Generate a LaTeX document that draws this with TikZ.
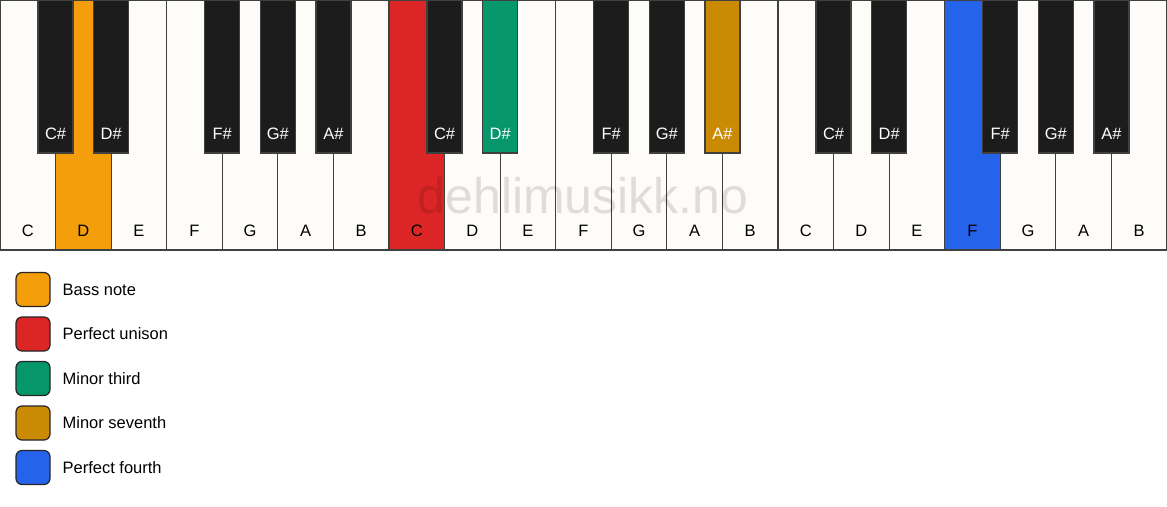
\documentclass[tikz,border=0pt]{standalone}
\usepackage{fontspec}
\setmainfont{Liberation Sans}
\usetikzlibrary{positioning}
\definecolor{ivory}{HTML}{FDFCF9}
\definecolor{keyblack}{HTML}{1C1C1C}
\definecolor{bassorange}{HTML}{F59E0B}
\definecolor{unisonred}{HTML}{DC2626}
\definecolor{thirdgreen}{HTML}{059669}
\definecolor{seventhgold}{HTML}{CA8A04}
\definecolor{fourthblue}{HTML}{2563EB}
\tikzset{
  >=latex,
}
\tikzstyle{whitekey}=[draw=black!75,line width=1.2pt]
\tikzstyle{blackkey}=[draw=black!75,line width=1.2pt]
\tikzstyle{every node}=[font=\fontsize{16.5}{20}\selectfont]
\tikzstyle{swatch}=[draw=black!85,line width=1.2pt,rounded corners=6pt,minimum size=34pt,inner sep=0pt]

\begin{document}
\begin{tikzpicture}[x=1pt,y=-1pt]
    \useasboundingbox (0,0) rectangle (1167,506);
    \fill[white] (0,0) rectangle (1167,506);
    % white keys
    \foreach \name/\col [count=\i from 0] in {C/ivory,D/bassorange,E/ivory,F/ivory,G/ivory,A/ivory,B/ivory,
      C/unisonred,D/ivory,E/ivory,F/ivory,G/ivory,A/ivory,B/ivory,
      C/ivory,D/ivory,E/ivory,F/fourthblue,G/ivory,A/ivory,B/ivory} {
      \draw[whitekey,fill=\col] (\i*55.571,0) rectangle ++(55.571,250);
      \node (w\i) at (\i*55.571+27.79,230.5) {\name};
    }
    % black keys
    \foreach \i/\name/\col in {0/C\#/keyblack,1/D\#/keyblack,3/F\#/keyblack,4/G\#/keyblack,5/A\#/keyblack,
      7/C\#/keyblack,8/D\#/thirdgreen,10/F\#/keyblack,11/G\#/keyblack,12/A\#/seventhgold,
      14/C\#/keyblack,15/D\#/keyblack,17/F\#/keyblack,18/G\#/keyblack,19/A\#/keyblack} {
      \draw[blackkey,fill=\col] (\i*55.571+38.07,0) rectangle ++(35,153);
      \node[text=white] (b\i) at (\i*55.571+55.57,133.5) {\name};
    }
    \node[text=black,text opacity=0.12,font=\fontsize{50}{60}\selectfont] (mark) at (583,196) {dehlimusikk.no};
    % legend
    \foreach \txt/\col [count=\j from 0] in {Bass note/bassorange,Perfect unison/unisonred,
      Minor third/thirdgreen,Minor seventh/seventhgold,Perfect fourth/fourthblue} {
      \node[swatch,fill=\col] (s\j) at (33,289.5+\j*44.5) {};
      \node[right=8.5pt of s\j] (l\j) {\txt};
    }
\end{tikzpicture}
\end{document}
